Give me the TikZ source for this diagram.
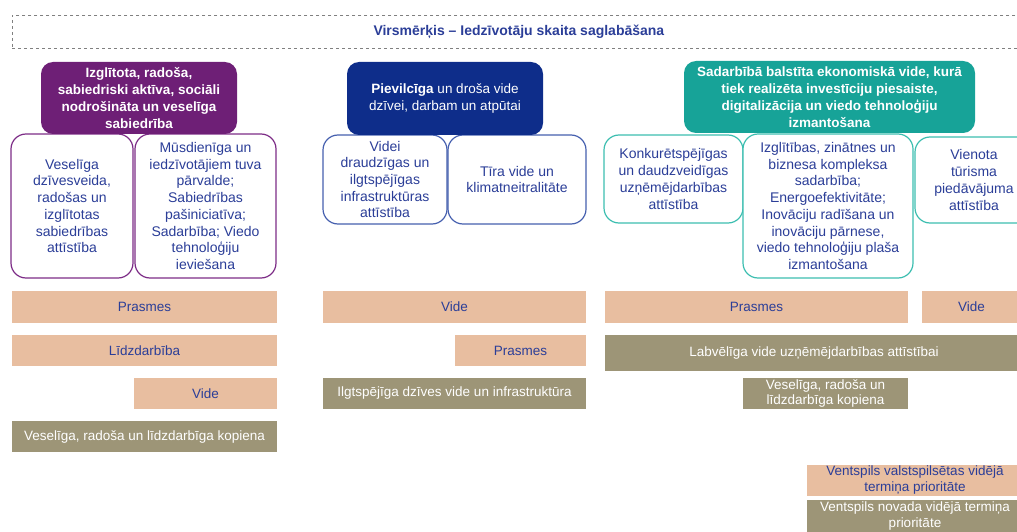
\documentclass[tikz,border=0pt]{standalone}
\usepackage{fontspec}
\setmainfont{Liberation Sans}
\usepackage{xcolor}

\definecolor{plum}{RGB}{110,31,118}
\definecolor{navy}{RGB}{14,45,138}
\definecolor{teal}{RGB}{23,163,152}
\definecolor{plumline}{RGB}{125,45,135}
\definecolor{navyline}{RGB}{70,96,175}
\definecolor{tealline}{RGB}{60,190,176}
\definecolor{txtblue}{RGB}{43,62,152}
\definecolor{salmon}{RGB}{232,190,160}
\definecolor{olive}{RGB}{157,149,119}

\begin{document}
\begin{tikzpicture}
  [x=1pt,y=-1pt,
   sz/.style 2 args={minimum width=#1pt,minimum height=#2pt},
   head/.style={rounded corners=12pt,fill=#1,text=white,align=center,inner sep=0pt,
     font=\bfseries\fontsize{13.5}{17}\selectfont},
   goal/.style={rounded corners=15pt,draw=#1,line width=1.2pt,fill=white,text=txtblue,
     align=center,inner sep=0pt,font=\fontsize{14}{16.7}\selectfont},
   bar/.style={fill=salmon,text=txtblue,align=center,inner sep=0pt,
     font=\fontsize{13.5}{16}\selectfont},
   obar/.style={fill=olive,text=white,align=center,inner sep=0pt,
     font=\fontsize{13.5}{16}\selectfont}]
  \path[use as bounding box] (0,0) rectangle (1017,532);

  % top goal
  \node (vm) [anchor=west,sz={1013}{33},draw=gray,dashed,line width=0.8pt,text=txtblue,
    font=\bfseries\fontsize{14}{16}\selectfont] at (12,31.5)
    {Virsmērķis – Iedzīvotāju skaita saglabāšana};

  % left column
  \node (l1) [goal=plumline,sz={122}{144}] at (72,206)
    {Veselīga\\dzīvesveida,\\radošas un\\izglītotas\\sabiedrības\\attīstība};
  \node (l2) [goal=plumline,sz={141}{144}] at (205.5,206)
    {Mūsdienīga un\\iedzīvotājiem tuva\\pārvalde;\\Sabiedrības\\pašiniciatīva;\\Sadarbība; Viedo\\tehnoloģiju\\ieviešana};
  \node (lh) [head=plum,sz={196}{72}] at (139,98)
    {Izglītota, radoša,\\sabiedriski aktīva, sociāli\\nodrošināta un veselīga\\sabiedrība};

  % middle column
  \node (m1) [goal=navyline,sz={124}{89}] at (385,179.5)
    {Videi\\draudzīgas un\\ilgtspējīgas\\infrastruktūras\\attīstība};
  \node (m2) [goal=navyline,sz={138}{89}] at (517,179.5)
    {Tīra vide un\\klimatneitralitāte};
  \node (mh) [head=navy,sz={196}{73}] at (445,98.5)
    {Pievilcīga \mdseries un droša vide\\\mdseries dzīvei, darbam un atpūtai};

  % right column
  \node (r1) [goal=tealline,sz={139}{88}] at (673.5,179)
    {Konkurētspējīgas\\un daudzveidīgas\\uzņēmējdarbības\\attīstība};
  \node (r2) [goal=tealline,sz={170}{144}] at (828,206)
    {Izglītības, zinātnes un\\biznesa kompleksa\\sadarbība;\\Energoefektivitāte;\\Inovāciju radīšana un\\inovāciju pārnese,\\viedo tehnoloģiju plaša\\izmantošana};
  \node (r3) [goal=tealline,sz={118}{86}] at (974,180)
    {Vienota\\tūrisma\\piedāvājuma\\attīstība};
  \node (rh) [head=teal,sz={291}{72}] at (829.5,97)
    {Sadarbībā balstīta ekonomiskā vide, kurā\\tiek realizēta investīciju piesaiste,\\digitalizācija un viedo tehnoloģiju\\izmantošana};

  % priorities
  \node (lp) [bar,sz={265}{32}] at (144.5,307) {Prasmes};
  \node (ll) [bar,sz={265}{31}] at (144.5,350.5) {Līdzdarbība};
  \node (lv) [bar,sz={143}{31}] at (205.5,393.5) {Vide};
  \node (lk) [obar,sz={265}{31}] at (144.5,436.5) {Veselīga, radoša un līdzdarbīga kopiena};

  \node (mv) [bar,sz={263}{32}] at (454.5,307) {Vide};
  \node (mp) [bar,sz={131}{31}] at (520.5,350.5) {Prasmes};
  \node (mi) [obar,sz={263}{31}] at (454.5,393.5) {Ilgtspējīga dzīves vide un infrastruktūra};

  \node (rp) [bar,sz={303}{32}] at (756.5,307) {Prasmes};
  \node (rv) [bar,sz={99}{32}] at (971.5,307) {Vide};
  \node (ru) [obar,sz={418}{36}] at (814,353) {Labvēlīga vide uzņēmējdarbības attīstībai};
  \node (rk) [obar,sz={165}{31},font=\fontsize{13.5}{15}\selectfont] at (825.5,393.5)
    {Veselīga, radoša un\\līdzdarbīga kopiena};

  % legend
  \node (kv) [bar,sz={216}{31}] at (915,480.5) {Ventspils valstspilsētas vidējā\\termiņa prioritāte};
  \node (kn) [obar,sz={216}{32},font=\fontsize{13.5}{15.5}\selectfont] at (915,516)
    {Ventspils novada vidējā termiņa\\prioritāte};

\end{tikzpicture}
\end{document}
